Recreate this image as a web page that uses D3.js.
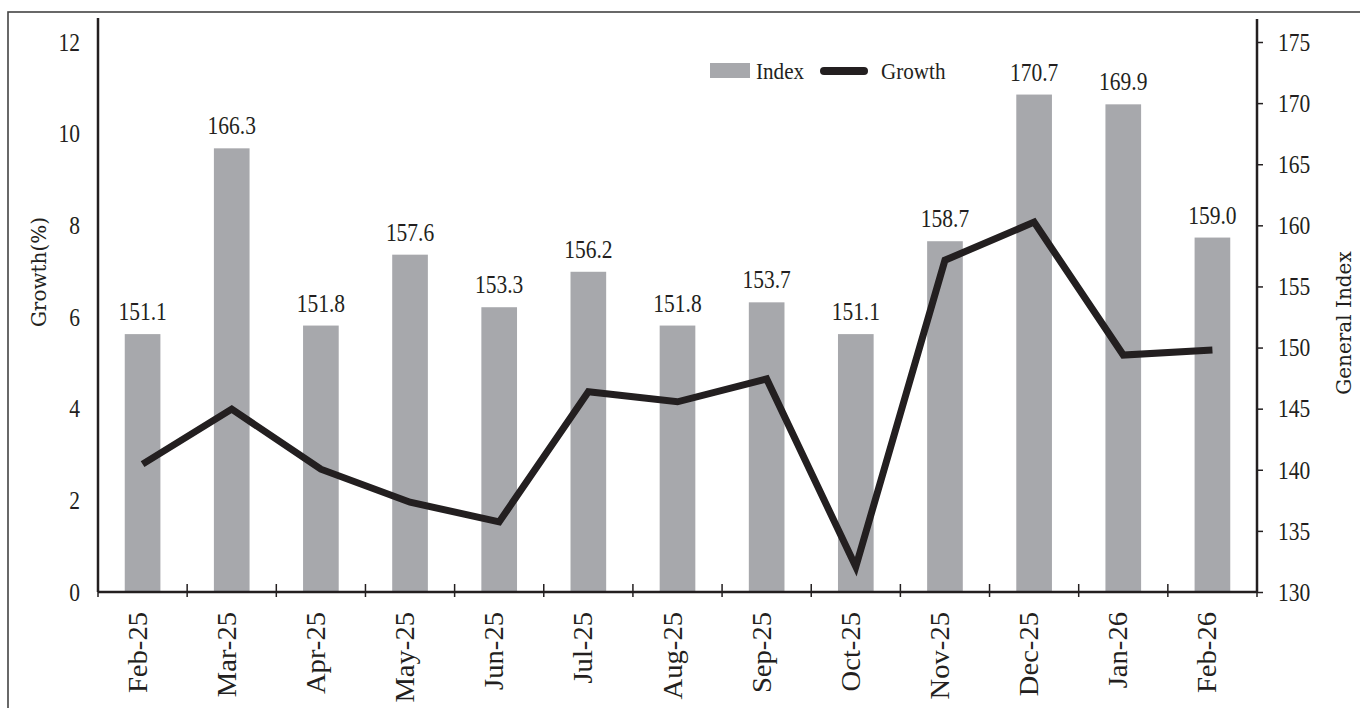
<!DOCTYPE html>
<html>
<head>
<meta charset="utf-8">
<script src="https://d3js.org/d3.v7.min.js"></script>
<style>
  body { margin: 0; background: #fff; }
  svg { display: block; }
</style>
</head>
<body>
<div id="vis"></div>
<script>
  // data
  const months = ['Feb-25','Mar-25','Apr-25','May-25','Jun-25','Jul-25','Aug-25','Sep-25','Oct-25','Nov-25','Dec-25','Jan-26','Feb-26']
  const indexValues = [151.1,166.3,151.8,157.6,153.3,156.2,151.8,153.7,151.1,158.7,170.7,169.9,159.0]
  const growthValues = [2.79,3.99,2.68,1.96,1.53,4.37,4.15,4.65,0.55,7.24,8.07,5.17,5.28]
  const growthTicks = [0,2,4,6,8,10,12]
  const indexTicks = [130,135,140,145,150,155,160,165,170,175]

  const W = 1360, H = 708
  const plotLeft = 98, plotRight = 1257, plotTop = 42, plotBottom = 592
  const ink = '#231f20'
  const barColor = '#a7a8ac'
  const numFont = '"Liberation Serif", serif'
  const titleFont = '"DejaVu Serif", serif'

  var svg = d3.select('#vis')
    .append('svg')
    .attr('width', W)
    .attr('height', H)

  // outer frame (only top and left show inside the window)
  svg.append('rect')
    .attr('x', 8).attr('y', 12)
    .attr('width', W + 20).attr('height', H + 20)
    .attr('fill', 'none')
    .attr('stroke', '#444')
    .attr('stroke-width', 1.6)

  var x = d3.scaleBand()
    .domain(months)
    .range([plotLeft, plotRight])
    .paddingInner(0.6)
    .paddingOuter(0.3)

  var yL = d3.scaleLinear().domain([0, 12]).range([plotBottom, plotTop])
  var yR = d3.scaleLinear().domain([130, 175]).range([plotBottom, plotTop])

  // bars (right axis)
  svg.selectAll('rect.bar')
    .data(indexValues)
    .enter()
    .append('rect')
    .attr('class', 'bar')
    .attr('x', (d, i) => x(months[i]))
    .attr('y', d => yR(d))
    .attr('width', x.bandwidth())
    .attr('height', d => plotBottom - yR(d))
    .attr('fill', barColor)

  // value labels, narrow serif
  svg.selectAll('g.vlab')
    .data(indexValues)
    .enter()
    .append('g')
    .attr('class', 'vlab')
    .attr('transform', (d, i) => 'translate(' + (x(months[i]) + x.bandwidth() / 2) + ',' + (yR(d) - 14) + ')')
    .append('text')
    .attr('transform', 'scale(0.86,1)')
    .attr('text-anchor', 'middle')
    .style('font-family', numFont)
    .style('font-size', '25px')
    .attr('fill', ink)
    .text(d => d.toFixed(1))

  // growth line (left axis)
  var line = d3.line()
    .x((d, i) => x(months[i]) + x.bandwidth() / 2)
    .y(d => yL(d))

  svg.append('path')
    .datum(growthValues)
    .attr('d', line)
    .attr('fill', 'none')
    .attr('stroke', ink)
    .attr('stroke-width', 7)
    .attr('stroke-linejoin', 'miter')

  // left axis
  var gL = svg.append('g')
    .attr('transform', 'translate(' + plotLeft + ',0)')
    .call(d3.axisLeft(yL).tickValues(growthTicks).tickSize(0).tickPadding(18))
  gL.select('.domain').remove()
  gL.selectAll('text')
    .style('font-family', numFont)
    .style('font-size', '25px')
    .attr('fill', ink)
    .attr('transform', 'scale(0.86,1)')
    .attr('x', -18 / 0.86)
    .attr('dy', '0.33em')
  svg.append('line')
    .attr('x1', plotLeft).attr('x2', plotLeft)
    .attr('y1', 18).attr('y2', plotBottom)
    .attr('stroke', ink).attr('stroke-width', 2.5)

  // right axis
  var gR = svg.append('g')
    .attr('transform', 'translate(' + plotRight + ',0)')
    .call(d3.axisRight(yR).tickValues(indexTicks).tickSize(6).tickPadding(15))
  gR.select('.domain').remove()
  gR.selectAll('.tick line').attr('stroke', ink).attr('stroke-width', 1.5)
  gR.selectAll('text')
    .style('font-family', numFont)
    .style('font-size', '25px')
    .attr('fill', ink)
    .attr('transform', 'scale(0.86,1)')
    .attr('x', 21 / 0.86)
    .attr('dy', '0.33em')
  svg.append('line')
    .attr('x1', plotRight).attr('x2', plotRight)
    .attr('y1', 19).attr('y2', plotBottom)
    .attr('stroke', ink).attr('stroke-width', 2.5)

  // x axis
  var gX = svg.append('g')
    .attr('transform', 'translate(0,' + plotBottom + ')')
    .call(d3.axisBottom(x).tickSize(0).tickPadding(0))
  gX.select('.domain').remove()
  gX.selectAll('text')
    .style('font-family', numFont)
    .style('font-size', '27px')
    .attr('fill', ink)
    .attr('text-anchor', 'end')
    .attr('transform', 'rotate(-90) scale(1.06,1)')
    .attr('x', -20 / 1.06)
    .attr('y', 0)
    .attr('dy', '4px')

  svg.append('line')
    .attr('x1', plotLeft).attr('x2', plotRight)
    .attr('y1', plotBottom).attr('y2', plotBottom)
    .attr('stroke', ink).attr('stroke-width', 2.5)

  // boundary ticks between months
  var step = x.step()
  var bounds = months.map(m => x(m) - step * 0.3).concat([plotRight])
  svg.selectAll('line.xtick')
    .data(bounds)
    .enter()
    .append('line')
    .attr('class', 'xtick')
    .attr('x1', d => d).attr('x2', d => d)
    .attr('y1', (d, i) => i === 0 ? plotBottom : plotBottom - 8)
    .attr('y2', plotBottom + 5)
    .attr('stroke', ink).attr('stroke-width', 1.5)

  // axis titles
  svg.append('text')
    .attr('transform', 'translate(46,272) rotate(-90)')
    .attr('text-anchor', 'middle')
    .style('font-family', titleFont)
    .style('font-size', '20px')
    .attr('fill', ink)
    .text('Growth(%)')

  svg.append('text')
    .attr('transform', 'translate(1351,323) rotate(-90)')
    .attr('text-anchor', 'middle')
    .style('font-family', titleFont)
    .style('font-size', '20px')
    .attr('fill', ink)
    .text('General Index')

  // legend
  var lg = svg.append('g')
  lg.append('rect')
    .attr('x', 710).attr('y', 63)
    .attr('width', 40).attr('height', 15)
    .attr('fill', barColor)
  lg.append('g')
    .attr('transform', 'translate(756,79)')
    .append('text')
    .attr('transform', 'scale(0.88,1)')
    .style('font-family', numFont)
    .style('font-size', '24px')
    .attr('fill', ink)
    .text('Index')
  lg.append('line')
    .attr('x1', 824).attr('x2', 864)
    .attr('y1', 71).attr('y2', 71)
    .attr('stroke', ink)
    .attr('stroke-width', 8)
    .attr('stroke-linecap', 'round')
  lg.append('g')
    .attr('transform', 'translate(881,79)')
    .append('text')
    .attr('transform', 'scale(0.88,1)')
    .style('font-family', numFont)
    .style('font-size', '24px')
    .attr('fill', ink)
    .text('Growth')
</script>
</body>
</html>
